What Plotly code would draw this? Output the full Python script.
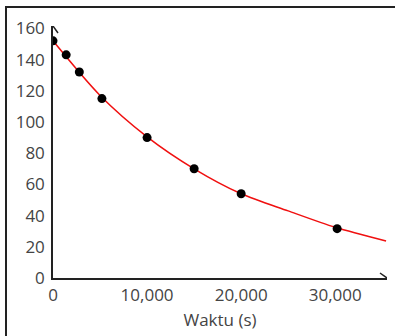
import plotly.graph_objects as go

# Measured points (time in s, value)
time_s = [0, 1400, 2800, 5200, 10000, 15000, 20000, 30200]
values = [152, 143, 132, 115, 90, 70, 54, 31.6]

# Red trend curve
curve_t = [0, 5000, 10000, 15000, 20000, 25000, 30000, 35400]
curve_v = [152, 117, 90.5, 70, 54, 43, 32.5, 23.7]

x_ticks = [0, 10000, 20000, 30000]
x_tick_labels = ["0", "10,000", "20,000", "30,000"]
y_ticks = [0, 20, 40, 60, 80, 100, 120, 140, 160]

X_MAX = 35500
Y_MAX = 161.5

W, H = 395, 336
ML, MR, MT, MB = 53, 8, 26, 58
pw = W - ML - MR
ph = H - MT - MB

fig = go.Figure()
fig.add_trace(go.Scatter(x=curve_t, y=curve_v, mode="lines",
                         line=dict(color="#f01010", width=1.5, shape="spline", smoothing=0.8),
                         hoverinfo="skip", showlegend=False))
fig.add_trace(go.Scatter(x=time_s, y=values, mode="markers",
                         marker=dict(color="black", size=9),
                         showlegend=False))

font = dict(family="Open Sans", size=17, color="#444")

fig.update_layout(
    width=W, height=H,
    margin=dict(l=ML, r=MR, t=MT, b=MB),
    paper_bgcolor="white", plot_bgcolor="white",
    font=font,
    xaxis=dict(range=[0, X_MAX], tickvals=x_ticks, ticktext=x_tick_labels, automargin=False,
               showgrid=False, zeroline=False, showline=True, linecolor="#222", linewidth=1.5,
               ticks="outside", ticklen=1, tickcolor="rgba(0,0,0,0)",
               title=dict(text="Waktu (s)", standoff=9, font=font)),
    yaxis=dict(range=[0, Y_MAX], tickvals=y_ticks, automargin=False,
               showgrid=False, zeroline=False, showline=True, linecolor="#222", linewidth=1.5,
               ticks="outside", ticklen=3, tickcolor="rgba(0,0,0,0)"),
)

# axis arrow heads (open chevrons)
fig.add_shape(type="path", xref="x", yref="y", xsizemode="pixel", ysizemode="pixel",
              xanchor=X_MAX, yanchor=0, path="M -7,5 L 0,0 L -7,-5",
              line=dict(color="#222", width=1.5))
fig.add_shape(type="path", xref="x", yref="y", xsizemode="pixel", ysizemode="pixel",
              xanchor=0, yanchor=Y_MAX, path="M -5,-7 L 0,0 L 5,-7",
              line=dict(color="#222", width=1.5))

# outer frame (top and left edges)
fx = (6 - ML) / pw
fy = (H - MB - 7) / ph
fig.add_shape(type="path", xref="paper", yref="paper", layer="above",
              path=f"M {fx},-0.4 L {fx},{fy} L 1.2,{fy}",
              line=dict(color="#222", width=2))

fig.write_html("out.html", config={"displayModeBar": False},
               post_script="document.body.style.margin='0';")
